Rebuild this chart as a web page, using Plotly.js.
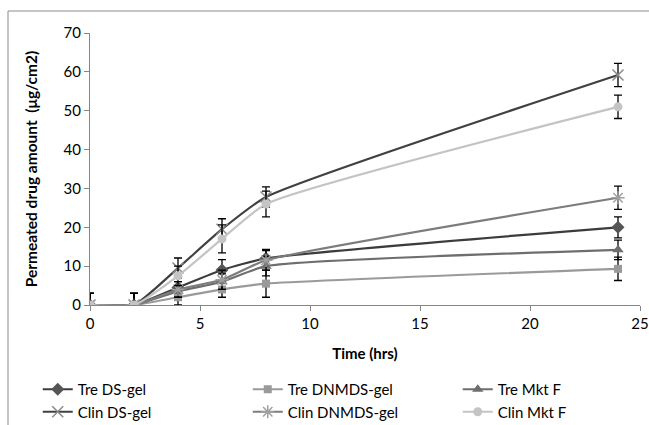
<!DOCTYPE html>
<html><head><meta charset="utf-8">
<script src="https://cdn.plot.ly/plotly-3.0.1.min.js"></script>
<style>body{margin:0;background:#fff}#c{width:649px;height:425px}</style>
</head><body><div id="c"></div>
<script>
const time = [0, 2, 4, 6, 8, 24];
const treDS = [0, 0, 4.5, 9, 12, 20];
const treDSErr = [3, 3, 1.5, 2.7, 2.3, 2.7];
const treDNMDS = [0, 0, 2, 4, 5.5, 9.3];
const treDNMDSErr = [3, 3, 2, 2, 3.5, 3];
const treMkt = [0, 0, 3.5, 6, 10, 14.2];
const treMktErr = [3, 3, 1.5, 2, 2.5, 2.5];
const clinDS = [0, 0, 9.5, 19.5, 27.8, 59.2];
const clinDSErr = [3, 3, 2.6, 2.7, 2.6, 3];
const clinDNMDS = [0, 0, 4, 6.5, 11.5, 27.6];
const clinDNMDSErr = [3, 3, 2, 2.5, 2.5, 3];
const clinMkt = [0, 0, 7.5, 17, 26, 51];
const clinMktErr = [3, 3, 2.5, 3.6, 3.3, 3];

function tr(name, y, err, lineColor, sym, mColor, mSize, open) {
  return {
    x: time, y: y, name: name, type: 'scatter', mode: 'lines+markers',
    line: {color: lineColor, width: 2.2, shape: 'spline', smoothing: 0.5},
    marker: open ? {symbol: sym, size: mSize, color: mColor, line: {color: mColor, width: 1.5}}
                 : {symbol: sym, size: mSize, color: mColor, line: {width: 0}},
    error_y: {type: 'data', array: err, visible: true, color: '#000', thickness: 1.3, width: 4}
  };
}
const data = [
  tr('Tre DS-gel', treDS, treDSErr, '#3c3c3c', 'diamond', '#555555', 10, false),
  tr('Tre DNMDS-gel', treDNMDS, treDNMDSErr, '#9a9a9a', 'square', '#9a9a9a', 8, false),
  tr('Tre Mkt F', treMkt, treMktErr, '#6e6e6e', 'triangle-up', '#6e6e6e', 10, false),
  tr('Clin DS-gel', clinDS, clinDSErr, '#404040', 'x-thin-open', '#8a8a8a', 11, true),
  tr('Clin DNMDS-gel', clinDNMDS, clinDNMDSErr, '#7c7c7c', 'asterisk-open', '#a0a0a0', 11, true),
  tr('Clin Mkt F', clinMkt, clinMktErr, '#c4c4c4', 'circle', '#c4c4c4', 9, false)
];
const font = {family: 'Lato, Open Sans, sans-serif', size: 15, color: '#000'};
const layout = {
  width: 649, height: 425,
  margin: {l: 90, r: 9, t: 33, b: 120, autoexpand: false},
  paper_bgcolor: '#fff', plot_bgcolor: '#fff',
  font: font,
  showlegend: true,
  xaxis: {
    range: [0, 25], dtick: 5, tick0: 0, showgrid: false, zeroline: false,
    showline: true, linecolor: '#868686', linewidth: 1,
    ticks: 'outside', ticklen: 5, tickcolor: '#868686',
    tickfont: {size: 15},
    title: {text: '<b>Time (hrs)</b>', font: {size: 15}, standoff: 17}
  },
  yaxis: {
    range: [0, 70], dtick: 10, tick0: 0, showgrid: false, zeroline: false,
    showline: true, linecolor: '#868686', linewidth: 1,
    ticks: 'outside', ticklen: 5, tickcolor: '#868686',
    tickfont: {size: 15},
    title: {text: '<b>Permeated drug amount  (μg/cm2)</b>', font: {size: 15.5}, standoff: 22}
  },
  legend: {
    orientation: 'h', x: -0.095, xanchor: 'left', y: -0.25, yanchor: 'top',
    entrywidth: 165, entrywidthmode: 'pixels', tracegroupgap: 0,
    font: {size: 15}, itemwidth: 30, bgcolor: 'rgba(0,0,0,0)'
  },
  shapes: [{
    type: 'rect', xref: 'paper', yref: 'paper',
    x0: (8 - 90) / 550, x1: 1.2, y0: -0.6, y1: (305 - 11) / 272,
    line: {color: '#8c8c8c', width: 1}, fillcolor: 'rgba(0,0,0,0)', layer: 'below'
  }]
};
Plotly.newPlot('c', data, layout, {displayModeBar: false, staticPlot: true});
</script></body></html>
